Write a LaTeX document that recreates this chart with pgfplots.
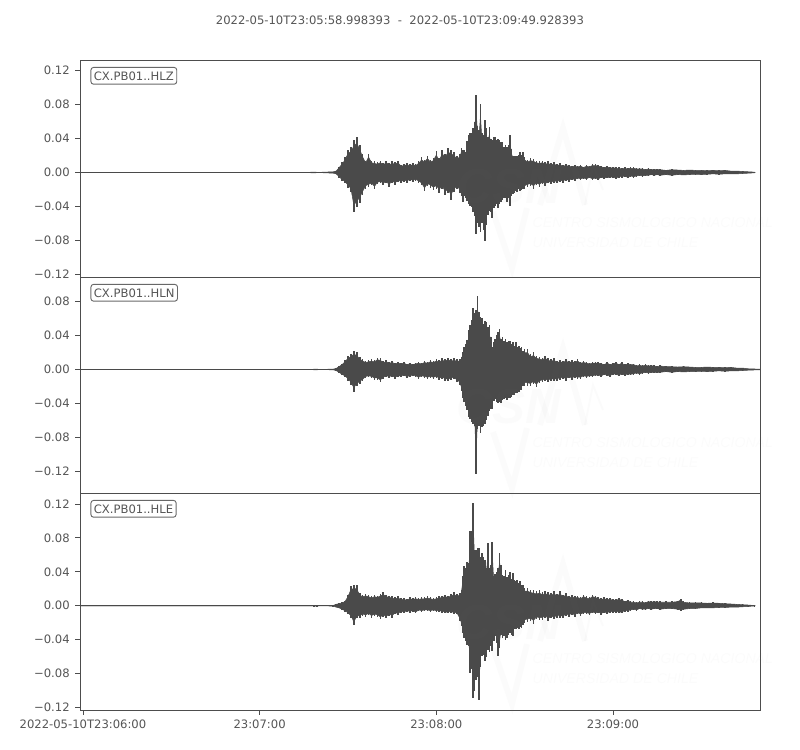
\documentclass[border=0pt]{standalone}
\usepackage{fontspec}
\usepackage{pgfplots}
\usepackage{pgfplotstable}
\pgfplotsset{compat=1.18}
\setmainfont{DejaVu Sans}
\newfontfamily\wmfont{Liberation Sans}
\definecolor{wave}{HTML}{4A4A4A}
\definecolor{spine}{HTML}{4D4D4D}
\definecolor{lab}{HTML}{555555}

% envelope per trace: seconds after 23:06:00, upper, lower (units of 0.001)
\pgfplotstableread{
t hi lo
-1 0 0
77 0 0
77.5 .6 -.6
79 .6 -.6
79.5 0 0
85 1 -1
86 2 -2
87 7 -6
88 12 -10
89 18 -13
90 27 -18
91 30 -23
92 38 -47
93 42 -41
94 33 -36
95 22 -27
96 14 -19
97 22 -17
98 14 -15
99 13 -20
100 12 -14
101 14 -13
102 11 -15
103 14 -13
104 11 -17
105 13 -12
106 12 -15
107 14 -11
108 9 -13
109 10 -11
110 11 -12
111 10 -10
112 11 -11
113 10 -10
114 13 -12
115 18 -15
116 15 -22
117 20 -16
118 15 -18
119 17 -21
120 25 -19
121 17 -24
122 27 -19
123 22 -27
124 29 -24
125 27 -32
126 24 -23
127 20 -20
128 22 -24
128.5 29 -28
129 27 -35
129.5 26 -28
130 24 -30
130.5 37 -34
131 44 -37
131.5 46 -39
132 47 -41
132.5 52 -47
133 59 -51
133.5 91 -72
134 55 -60
134.5 50 -64
135 81 -70
135.5 46 -60
136 44 -68
136.5 62 -81
137 52 -62
137.5 42 -50
138 54 -45
138.5 40 -47
139 38 -54
139.5 42 -42
140 42 -39
140.5 38 -37
141 40 -42
141.5 38 -37
142 36 -35
142.5 36 -33
143 30 -30
143.5 32 -30
144 30 -35
144.5 32 -30
145 44 -39
145.5 28 -28
146 20 -25
146.5 20 -24
147 19 -22
147.5 20 -23
148 21 -20
148.5 24 -22
149 21 -21
149.5 24 -20
150 18 -19
151 15 -17
152 17 -16
153 16 -19
154 14 -15
155 13 -17
156 14 -14
157 12 -16
158 13 -13
159 11 -14
160 12 -12
161 10 -13
162 11 -11
163 9 -12
164 10 -10
165 9 -11
166 8 -9
167 9 -10
168 8 -8
169 9 -9
170 7 -8
171 9 -9
172 8 -7
173 10 -9
174 10 -8
175 9 -9
176 8 -7
177 7 -8
178 8 -7
179 6 -7
180 7 -6
181 6 -8
182 6 -6
183 5 -6
184 6 -5
185 5 -7
186 6 -5
187 6 -6
188 5 -5
189 5 -4
190 5 -5
191 4 -4
192 5 -4
193 4 -3
194 4 -4
195 4 -3
196 4 -4
198 3 -3
200 4 -4
202 3.5 -3
204 3 -3.5
206 3.5 -3
208 3 -2.5
210 3 -3
212 2.5 -2.5
214 3 -2
216 2.5 -2.5
218 3 -2
220 2 -2
222 2 -2
224 1.5 -1.5
226 1 -1
228 .5 -.5
228.3 0 0
}\tabz

\pgfplotstableread{
t hi lo
-1 0 0
78 0 0
78.5 .6 -.6
79.5 .6 -.6
80 0 0
85 .5 -.5
86 1.5 -1.5
87 4 -4
88 7 -7
89 11 -9
90 16 -13
91 18 -18
92 22 -26
93 20 -20
94 15 -17
95 12 -14
96 10 -10
97 11 -9
98 12 -10
99 11 -12
100 14 -12
101 13 -15
102 10 -11
103 11 -9
104 9 -10
105 10 -9
106 8 -11
107 9 -9
108 8 -9
109 9 -8
110 7 -10
111 8 -9
112 7 -8
113 8 -9
114 9 -11
115 8 -9
116 10 -10
117 9 -11
118 11 -10
119 10 -11
120 12 -10
121 11 -12
122 13 -11
123 12 -13
124 14 -14
125 12 -12
126 13 -11
127 12 -15
128 12 -18
128.5 15 -25
129 21 -33
129.5 26 -38
130 30 -43
130.5 35 -48
131 46 -56
131.5 52 -58
132 58 -62
132.5 72 -64
133 66 -66
133.5 70 -123
134 87 -70
134.5 68 -66
135 62 -75
135.5 60 -68
136 54 -66
136.5 57 -64
137 56 -60
137.5 50 -55
138 52 -49
138.5 38 -46
139 27 -46
139.5 32 -37
140 36 -35
140.5 40 -38
141 44 -40
141.5 48 -38
142 36 -40
142.5 38 -36
143 34 -35
143.5 36 -33
144 32 -36
144.5 34 -33
145 33 -34
145.5 30 -32
146 32 -30
146.5 28 -30
147 32 -28
147.5 26 -28
148 28 -26
148.5 25 -24
149 26 -24
149.5 22 -20
150 24 -19
151 24 -19
152 18 -20
153 20 -17
154 16 -21
155 15 -16
156 14 -15
157 16 -14
158 13 -15
159 12 -13
160 13 -14
161 10 -13
162 11 -12
163 10 -11
164 12 -13
165 10 -10
166 11 -12
167 10 -10
168 12 -11
169 9 -11
170 10 -9
171 9 -10
172 8 -9
173 9 -9
174 9 -8
175 9 -8
176 8 -9
177 7 -7
178 9 -8
179 7 -9
180 8 -6
181 9 -7
182 7 -8
183 9 -6
184 6 -8
185 8 -6
186 7 -7
187 7 -6
188 5 -5
189 6 -6
190 5 -5
191 6 -4
192 5 -5
193 5 -4
194 5 -4
195 4 -4
196 5 -4
198 4 -3
200 4 -4
202 3.5 -3
204 4 -3.5
206 3.5 -3
208 3 -3
210 3 -2.5
212 3.5 -3
214 3 -2.5
216 3 -2
218 2.5 -2.5
220 3 -2
222 2 -2
224 2 -1.5
226 1 -1
228 .7 -.7
229.9 .5 -.5
}\tabn

\pgfplotstableread{
t hi lo
-1 0 0
78 0 0
78.5 .5 -.5
79.5 .5 -.5
80 0 0
85 .5 -.5
86 2 -2
87 3 -3
88 4 -5
89 6 -7
90 13 -10
91 23 -14
92 25 -23
93 24 -15
94 15 -14
95 13 -12
96 14 -13
97 13 -11
98 11 -14
99 13 -12
100 12 -13
101 14 -16
102 16 -13
103 13 -15
104 12 -12
105 11 -14
106 10 -10
107 11 -11
108 9 -8
109 9 -9
110 8 -7
111 10 -8
112 9 -7
113 10 -9
114 9 -6
115 10 -7
116 10 -6
117 11 -6
118 10 -7
119 9 -6
120 10 -7
121 11 -7
122 12 -8
123 13 -9
124 12 -9
125 14 -8
126 16 -10
127 14 -10
128 15 -18
128.5 18 -24
129 35 -32
129.5 47 -38
130 45 -42
130.5 52 -46
131 50 -48
131.5 88 -79
132 88 -74
132.5 121 -109
133 66 -100
133.5 66 -87
134 68 -84
134.5 68 -111
135 58 -72
135.5 62 -59
136 58 -58
136.5 54 -65
137 44 -60
137.5 74 -52
138 45 -55
138.5 48 -48
139 75 -53
139.5 35 -42
140 38 -36
140.5 40 -44
141 45 -59
141.5 62 -50
142 48 -34
142.5 36 -38
143 35 -36
143.5 42 -40
144 34 -38
144.5 36 -34
145 40 -32
145.5 32 -34
146 39 -36
146.5 30 -28
147 29 -28
147.5 30 -26
148 27 -27
148.5 29 -25
149 25 -26
149.5 24 -23
150 21 -20
151 21 -19
152 19 -18
153 18 -21
154 17 -16
155 18 -17
156 16 -17
157 17 -14
158 16 -18
159 15 -15
160 17 -16
161 14 -14
162 17 -14
163 13 -15
164 15 -12
165 11 -13
166 13 -11
167 11 -13
168 12 -10
169 10 -12
170 13 -10
171 11 -10
172 10 -11
173 13 -9
174 12 -10
175 10 -9
176 9 -11
177 10 -9
178 9 -10
179 9 -8
180 8 -9
181 8 -8
182 9 -9
183 8 -9
184 6 -7
185 7 -7
186 5 -6
187 5 -5
188 4 -6
189 5 -4
190 5 -5
191 4 -5
192 6 -4
193 5 -5
194 6 -4
195 5 -4
196 5 -5
198 5 -4
200 5 -4
202 6 -5
203 8 -6
204 5 -5
206 4 -4
208 4 -4
210 4 -3
212 3.5 -3
214 4 -3
216 3.5 -2.5
218 3 -2.5
220 2.5 -2
222 2 -2
224 1.5 -1.5
226 1 -1
228 .3 -.3
228.3 0 0
}\tabe

\pgfplotsset{
  panel/.style={
    scale only axis, width=510pt, at={(60pt,#1)}, anchor=south west,
    xmin=-1.0, xmax=229.93,
    clip=true,
    axis line style={draw=spine, line width=.7pt},
    tick style={draw=spine, line width=.6pt},
    tick align=outside, major tick length=3.6pt,
    ytick pos=left, xtick pos=bottom,
    xtick=\empty,
    every tick label/.append style={font=\fontsize{8.7}{10}\selectfont, text=lab},
    yticklabel style={xshift=-.6pt},
  },
  core/.style={draw=wave, fill=wave, line width=.4pt, line join=bevel, forget plot},
  teeth/.style={ycomb, draw=wave, line width=1.2pt, no markers, forget plot},
}
% solid core of the trace, then one spike per row up to the read envelope
\newcommand{\trace}[2]{%
  \addplot[core] table[x=t, y expr=\thisrow{hi}*0.00082] {#1};
  \addplot[core] table[x=t, y expr=\thisrow{lo}*0.00082] {#1};
  \addplot[teeth] table[x=t, y expr=\thisrow{hi}/1000] {#1};
  \addplot[teeth] table[x=t, y expr=\thisrow{lo}/1000] {#1};
  \addplot[draw=wave, line width=.8pt, forget plot] coordinates {(-1,0) (#2,0)};
}
\newcommand{\chan}[1]{%
  \node[anchor=north west, draw=spine!85, rounded corners=2pt, line width=.7pt,
    inner xsep=2.2pt, inner ysep=3pt, text=lab, font=\fontsize{8.7}{10}\selectfont,
    text height=6.6pt, text depth=0pt] at (rel axis cs:.0154,.968) {#1};
}
% faint logo lying over each trace, in picture pixels
\newcommand{\logo}[1]{%
  \begin{scope}[shift={(0,#1)}, opacity=.03]
    \draw[gray, line width=4.5pt, line join=miter]
      (493,212) -- (512,268) -- (527,208);
    \draw[gray, line width=4.5pt, line join=miter]
      (540,205) -- (563,128) -- (585,205);
    \draw[gray, line width=1.5pt] (585,205) -- (593,165) -- (603,190);
    \node[anchor=west, gray, font=\wmfont\bfseries\itshape\fontsize{37}{40}\selectfont]
      at (452,187) {CSN};
    \node[anchor=west, gray, font=\wmfont\itshape\fontsize{10.6}{12}\selectfont]
      at (528,223) {CENTRO SISMOLOGICO NACIONAL};
    \node[anchor=west, gray, font=\wmfont\itshape\fontsize{10.6}{12}\selectfont]
      at (528,243) {UNIVERSIDAD DE CHILE};
  \end{scope}%
}

\begin{document}
\begin{tikzpicture}
  \path[use as bounding box] (0,0) rectangle (600pt,562.5pt);

  \begin{axis}[panel=354.75pt, height=162.75pt,
      ymin=-0.1233, ymax=0.1327,
      ytick={-0.12,-0.08,-0.04,0,0.04,0.08,0.12},
      yticklabels={−0.12,−0.08,−0.04,0.00,0.04,0.08,0.12}]
    \trace{\tabz}{228.3}
    \chan{CX.PB01..HLZ}
  \end{axis}

  \begin{axis}[panel=192.75pt, height=162pt,
      ymin=-0.1453, ymax=0.1088,
      ytick={-0.12,-0.08,-0.04,0,0.04,0.08},
      yticklabels={−0.12,−0.08,−0.04,0.00,0.04,0.08}]
    \trace{\tabn}{229.93}
    \chan{CX.PB01..HLN}
  \end{axis}

  \begin{axis}[panel=30pt, height=162.75pt,
      ymin=-0.1229, ymax=0.1329,
      ytick={-0.12,-0.08,-0.04,0,0.04,0.08,0.12},
      yticklabels={−0.12,−0.08,−0.04,0.00,0.04,0.08,0.12},
      xtick={0,60,120,180},
      xticklabels={2022-05-10T23:06:00,23:07:00,23:08:00,23:09:00}]
    \trace{\tabe}{228.3}
    \chan{CX.PB01..HLE}
  \end{axis}

  \begin{scope}[x=.75pt, y=-.75pt, shift={(0,-750)}]
    \logo{0}
    \logo{220}
    \logo{436}
    \node[text=lab, font=\fontsize{8.7}{10}\selectfont] at (400,20)
      {2022-05-10T23:05:58.998393\ \ -\ \ 2022-05-10T23:09:49.928393};
  \end{scope}
\end{tikzpicture}
\end{document}
